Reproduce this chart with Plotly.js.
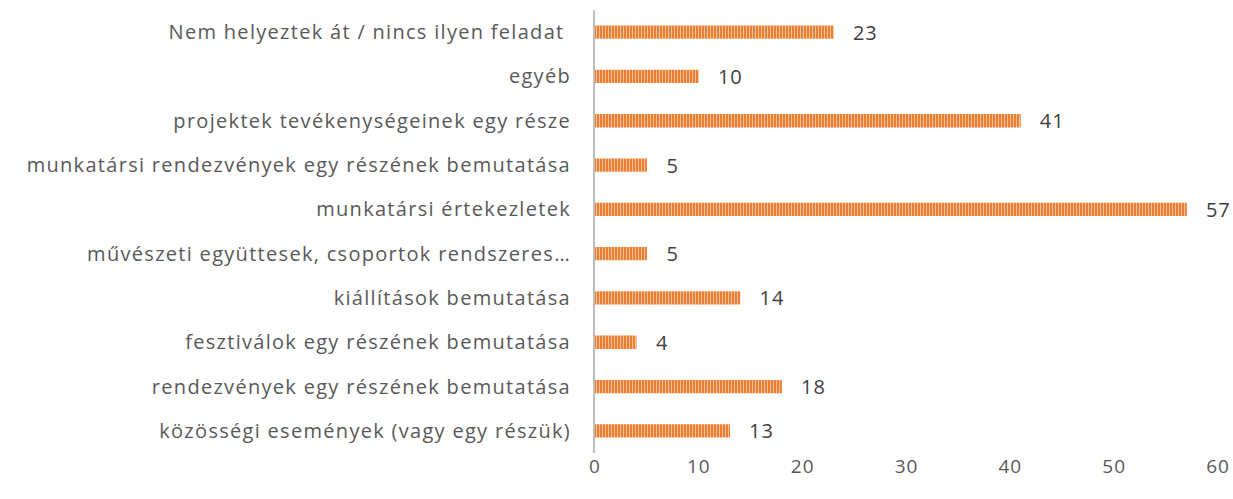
<!DOCTYPE html>
<html><head><meta charset="utf-8">
<script src="https://cdn.plot.ly/plotly-3.0.1.min.js"></script>
<style>body{margin:0;background:#fff}#c{width:1233px;height:499px}
.ytick text{letter-spacing:1.3px}
.xtick text, .bars text{letter-spacing:1px}
</style>
</head><body><div id="c"></div>
<script>
const categories = [
  "közösségi események (vagy egy részük)",
  "rendezvények egy részének bemutatása",
  "fesztiválok egy részének bemutatása",
  "kiállítások bemutatása",
  "művészeti együttesek, csoportok rendszeres…",
  "munkatársi értekezletek",
  "munkatársi rendezvények egy részének bemutatása",
  "projektek tevékenységeinek egy része",
  "egyéb",
  "Nem helyeztek át / nincs ilyen feladat "
];
const values = [13, 18, 4, 14, 5, 57, 5, 41, 10, 23];
const xTicks = [0, 10, 20, 30, 40, 50, 60];

const trace = {
  type: 'bar', orientation: 'h',
  y: categories, x: values,
  text: values.map(String),
  texttemplate: '   %{text}',
  textposition: 'outside',
  constraintext: 'none',
  cliponaxis: false,
  textfont: {color: '#404040', size: 20, family: 'Open Sans'},
  marker: {color: '#ED7D31', pattern: {shape: '|', fillmode: 'replace', bgcolor: '#ED7D31', fgcolor: '#F9C8A6', size: 3, solidity: 0.3}, line: {width: 0}},
  hoverinfo: 'skip'
};
const layout = {
  width: 1233, height: 499,
  margin: {l: 595, r: 15, t: 10, b: 46},
  paper_bgcolor: '#fff', plot_bgcolor: '#fff',
  showlegend: false,
  bargap: 0.7,
  font: {family: 'Open Sans', color: '#595959', size: 20},
  xaxis: {range: [0, 60], tickvals: xTicks, showgrid: false, zeroline: false, showline: false, ticks: '', tickfont: {size: 19, color: '#595959'}, fixedrange: true},
  yaxis: {type: 'category', showgrid: false, zeroline: false, showline: true, linecolor: '#BFBFBF', linewidth: 2, ticks: '', ticklabelstandoff: 18, tickfont: {size: 20, color: '#595959'}, automargin: false, fixedrange: true}
};
Plotly.newPlot('c', [trace], layout, {staticPlot: true});
</script></body></html>
